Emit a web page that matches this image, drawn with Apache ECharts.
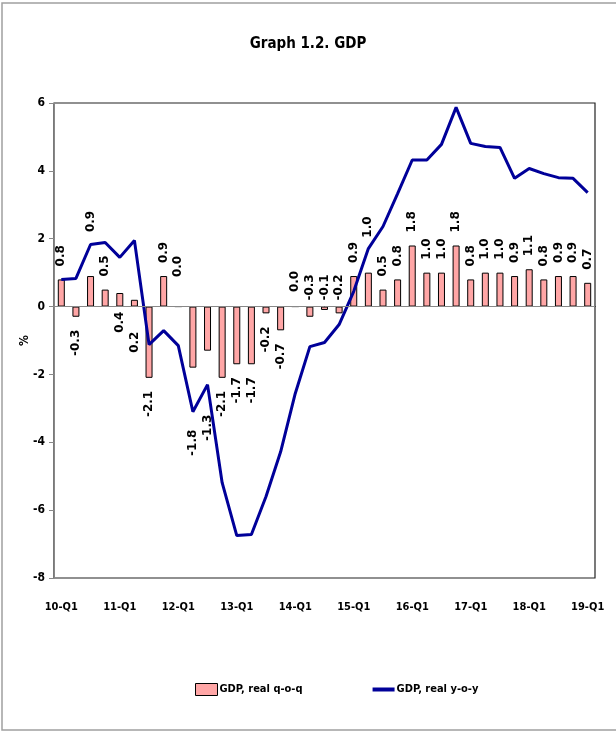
<!DOCTYPE html>
<html>
<head>
<meta charset="utf-8">
<script src="https://cdn.jsdelivr.net/npm/echarts@6/dist/echarts.min.js"></script>
<style>
html,body{margin:0;padding:0;background:#fff;}
#chart{width:616px;height:734px;}
</style>
</head>
<body>
<div id="chart"></div>
<script>
const categories = ['10-Q1','10-Q2','10-Q3','10-Q4','11-Q1','11-Q2','11-Q3','11-Q4',
  '12-Q1','12-Q2','12-Q3','12-Q4','13-Q1','13-Q2','13-Q3','13-Q4',
  '14-Q1','14-Q2','14-Q3','14-Q4','15-Q1','15-Q2','15-Q3','15-Q4',
  '16-Q1','16-Q2','16-Q3','16-Q4','17-Q1','17-Q2','17-Q3','17-Q4',
  '18-Q1','18-Q2','18-Q3','18-Q4','19-Q1'];
const qoq = [0.8,-0.3,0.9,0.5,0.4,0.2,-2.1,0.9,
  0.0,-1.8,-1.3,-2.1,-1.7,-1.7,-0.2,-0.7,
  0.0,-0.3,-0.1,-0.2,0.9,1.0,0.5,0.8,
  1.8,1.0,1.0,1.8,0.8,1.0,1.0,0.9,
  1.1,0.8,0.9,0.9,0.7];
const yoy = [0.80,0.83,1.83,1.89,1.45,1.95,-1.12,-0.71,
  -1.15,-3.10,-2.30,-5.19,-6.75,-6.72,-5.60,-4.28,
  -2.56,-1.18,-1.06,-0.53,0.45,1.71,2.36,3.33,
  4.32,4.32,4.78,5.87,4.81,4.72,4.69,3.78,
  4.07,3.92,3.80,3.78,3.36];
const yTicks = {min:-8, max:6, step:2};

// label placement tweaks (index -> side, gap in px), mimicking the hand-moved labels
const labelTweaks = {2:['top',44],4:['bottom',5],5:['bottom',25],8:['top',29],
  9:['bottom',62],10:['bottom',64],16:['top',14],17:['top',6],18:['top',6],19:['top',6],21:['top',35]};

const barData = qoq.map((v,i)=>{
  let side = v >= 0 ? 'top' : 'bottom';
  let gap = 13;
  if (labelTweaks[i]) { side = labelTweaks[i][0]; gap = labelTweaks[i][1]; }
  return {value: v, label: {position: side, distance: gap, align: side === 'top' ? 'left' : 'right'}};
});

const narrow = '"Liberation Sans Narrow","DejaVu Sans Condensed",sans-serif';
const chart = echarts.init(document.getElementById('chart'));
chart.setOption({
  animation: false,
  backgroundColor: '#fff',
  title: {text: 'Graph 1.2. GDP', left: 'center', top: 32,
    textStyle: {fontFamily: narrow, fontWeight: 'bold', fontSize: 15, color: '#000'}},
  graphic: [{type:'rect', shape:{x:2, y:3, width:700, height:727}, silent:true,
    style:{fill:'none', stroke:'#a0a0a0', lineWidth:1.5}}],
  grid: {left: 54, right: 21, top: 103, bottom: 156, show: true, borderColor: '#222', borderWidth: 1.2, backgroundColor: 'transparent'},
  legend: {bottom: 33, left: 190, itemGap: 70, itemWidth: 22, itemHeight: 12,
    textStyle: {fontFamily: narrow, fontWeight: 'bold', fontSize: 11, color: '#000', padding: [0,0,0,-3]},
    data: [{name: 'GDP, real q-o-q', icon: 'rect', itemStyle: {color: '#FFA6A6', borderColor: '#000', borderWidth: 1}},
           {name: 'GDP, real y-o-y', icon: 'path://M0,0 L22,0 L22,4 L0,4 Z', itemStyle: {color: '#000099', borderWidth: 0}}]},
  xAxis: {type: 'category', data: categories, boundaryGap: true,
    axisLine: {show: true, lineStyle: {color: '#000', width: 1.2}},
    axisTick: {show: false},
    axisLabel: {interval: 3, margin: 24, fontFamily: narrow, fontWeight: 'bold', fontSize: 11, color: '#000'}},
  yAxis: {type: 'value', min: yTicks.min, max: yTicks.max, interval: yTicks.step,
    name: '%', nameLocation: 'middle', nameGap: 23, nameRotate: 90, nameMoveOverlap: false,
    nameTextStyle: {fontFamily: narrow, fontWeight: 'bold', fontSize: 12, color: '#000'},
    axisLine: {show: true, lineStyle: {color: '#888', width: 1}},
    axisTick: {show: true, inside: false, length: 5, lineStyle: {color: '#888'}},
    splitLine: {show: false},
    axisLabel: {margin: 9, fontFamily: narrow, fontWeight: 'bold', fontSize: 12, color: '#000'}},
  series: [
    {name: 'GDP, real q-o-q', type: 'bar', data: barData, barWidth: 7,
      itemStyle: {color: '#FFA6A6', borderColor: '#000', borderWidth: 1},
      label: {show: true, rotate: 90, verticalAlign: 'middle',
        fontFamily: '"DejaVu Sans",sans-serif', fontWeight: 'bold', fontSize: 12, color: '#000',
        formatter: p => p.value.toFixed(1)},
      markLine: {silent: true, symbol: 'none', label: {show: false},
        lineStyle: {color: '#888', width: 1, type: 'solid'}, data: [{yAxis: 0}]},
      z: 2},
    {name: 'GDP, real y-o-y', type: 'line', data: yoy, symbol: 'none', smooth: false,
      lineStyle: {color: '#000099', width: 3}, itemStyle: {color: '#000099'}, z: 3}
  ]
});
</script>
</body>
</html>
